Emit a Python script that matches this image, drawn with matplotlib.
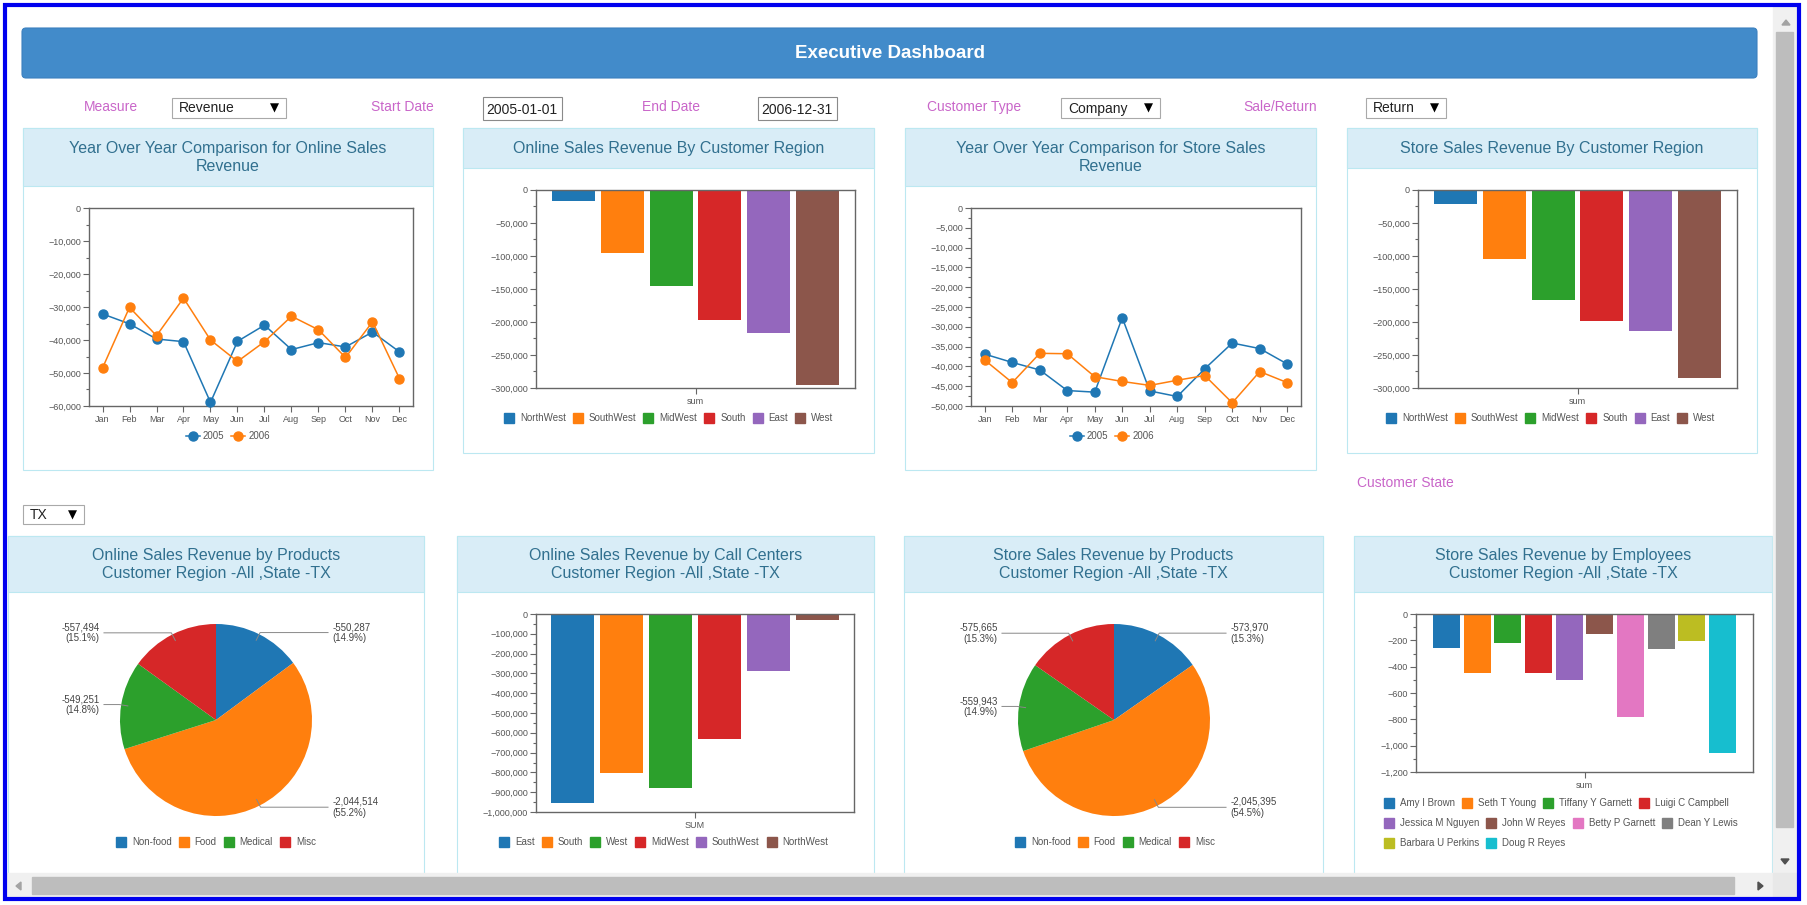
import matplotlib
matplotlib.use("Agg")
import matplotlib.pyplot as plt
from matplotlib.patches import Rectangle, FancyBboxPatch, Polygon
from matplotlib.ticker import MultipleLocator, FuncFormatter
import numpy as np

plt.rcParams['font.family'] = ['Liberation Sans', 'DejaVu Sans']
plt.rcParams['axes.unicode_minus'] = True

# ------------------------------
# Données
# ------------------------------
months = ['Jan', 'Feb', 'Mar', 'Apr', 'May', 'Jun', 'Jul', 'Aug', 'Sep', 'Oct', 'Nov', 'Dec']
online_2005 = [-32100, -35100, -39700, -40500, -58900, -40400, -35500, -42900, -40800, -42100, -37600, -43600]
online_2006 = [-48500, -30100, -38700, -27300, -40000, -46500, -40500, -32800, -36900, -45300, -34500, -51700]
store_2005 = [-36900, -39000, -40900, -46100, -46500, -27700, -46200, -47600, -40600, -34100, -35500, -39400]
store_2006 = [-38400, -44100, -36700, -36800, -42600, -43800, -44800, -43500, -42300, -49200, -41300, -44100]

regions = ['NorthWest', 'SouthWest', 'MidWest', 'South', 'East', 'West']
online_region = [-17200, -96100, -144700, -196300, -216000, -294900]
store_region = [-21800, -105200, -167400, -197800, -213000, -284300]

products = ['Non-food', 'Food', 'Medical', 'Misc']
online_products = [-550287, -2044514, -549251, -557494]
store_products = [-573970, -2045395, -559943, -575665]

call_centers = ['East', 'South', 'West', 'MidWest', 'SouthWest', 'NorthWest']
call_center_rev = [-952800, -801000, -876900, -629000, -290100, -32000]

employees = ['Amy I Brown', 'Seth T Young', 'Tiffany Y Garnett', 'Luigi C Campbell',
             'Jessica M Nguyen', 'John W Reyes', 'Betty P Garnett', 'Dean Y Lewis',
             'Barbara U Perkins', 'Doug R Reyes']
employee_rev = [-261, -451, -223, -451, -504, -154, -785, -268, -208, -1058]

# couleurs
C = ['#1f77b4', '#ff7f0e', '#2ca02c', '#d62728', '#9467bd',
     '#8c564b', '#e377c2', '#7f7f7f', '#bcbd22', '#17becf']
TXT = '#555555'
AX_C = '#666666'
ORCHID = '#c966c9'
PANEL_HEAD = '#d9edf7'
PANEL_EDGE = '#bce8f1'
TITLE_C = '#31708f'

W, H = 1807, 905
fig = plt.figure(figsize=(W / 100, H / 100), dpi=100)
bg = fig.add_axes([0, 0, 1, 1])
bg.set_xlim(0, W)
bg.set_ylim(H, 0)
bg.axis('off')
renderer = fig.canvas.get_renderer()


def px_axes(x0, y0, x1, y1):
    return fig.add_axes([x0 / W, 1 - y1 / H, (x1 - x0) / W, (y1 - y0) / H])


def fmt(v, pos):
    return f"{v:,.0f}".replace('-', '\u2212')


def style_axes(ax):
    for s in ax.spines.values():
        s.set_color(AX_C)
        s.set_linewidth(1.0)
    ax.tick_params(which='both', direction='out', color=AX_C, width=0.8,
                   labelsize=6.5, labelcolor=TXT)
    ax.tick_params(which='major', length=4.3)
    ax.tick_params(which='minor', length=2.2)
    ax.tick_params(axis='y', pad=1.5)
    ax.tick_params(axis='x', pad=2.5)
    ax.yaxis.set_major_formatter(FuncFormatter(fmt))


def panel(x0, y0, x1, y1, hb, title):
    bg.add_patch(Rectangle((x0, y0), x1 - x0, y1 - y0, facecolor='white',
                           edgecolor=PANEL_EDGE, lw=0.8))
    bg.add_patch(Rectangle((x0, y0), x1 - x0, hb - y0, facecolor=PANEL_HEAD,
                           edgecolor=PANEL_EDGE, lw=0.8))
    bg.text((x0 + x1) / 2, (y0 + hb) / 2 + 0.5, title, ha='center', va='center',
            fontsize=11.5, color=TITLE_C, linespacing=1.22)


def flow_legend(labels, colors, x0, y0, max_x, kind='box', row_h=20):
    x, y = x0, y0
    for lab, col in zip(labels, colors):
        t = bg.text(0, y, lab, fontsize=7, color=TXT, va='center', ha='left')
        tw = t.get_window_extent(renderer).width
        sw, gap = (10, 6) if kind == 'box' else (14, 3)
        if x + sw + gap + tw > max_x and x > x0:
            x = x0
            y += row_h
        if kind == 'box':
            bg.add_patch(Rectangle((x, y - 5), 10, 10, color=col))
        else:
            bg.plot([x, x + 14], [y, y], color=col, lw=1.1)
            bg.plot([x + 7], [y], 'o', color=col, ms=6.5)
        t.set_position((x + sw + gap, y))
        x += sw + gap + tw + 7


def line_chart(box, s05, s06, ymin, step):
    ax = px_axes(*box)
    x = np.arange(len(months))
    ax.plot(x, s05, '-o', color=C[0], lw=1.1, ms=6.5, clip_on=False, zorder=3)
    ax.plot(x, s06, '-o', color=C[1], lw=1.1, ms=6.5, clip_on=False, zorder=3)
    ax.set_xlim(-0.5, len(months) - 0.5)
    ax.set_ylim(ymin, 0)
    ax.set_xticks(x, months)
    ax.yaxis.set_major_locator(MultipleLocator(step))
    ax.yaxis.set_minor_locator(MultipleLocator(step / 2))
    style_axes(ax)
    return ax


def bar_chart(box, values, colors, xlabel, ymin, step, pad):
    ax = px_axes(*box)
    x = np.arange(len(values))
    ax.bar(x, values, width=0.88, color=colors)
    ax.set_xlim(-pad, len(values) - 1 + pad)
    ax.set_ylim(ymin, 0)
    ax.set_xticks([(len(values) - 1) / 2], [xlabel])
    ax.yaxis.set_major_locator(MultipleLocator(step))
    ax.yaxis.set_minor_locator(MultipleLocator(step / 2))
    style_axes(ax)
    return ax


def pie_chart(cx, cy, r, values):
    ax = px_axes(cx - r, cy - r, cx + r, cy + r)
    sizes = np.abs(np.array(values, dtype=float))
    wedges, _ = ax.pie(sizes, colors=C[:len(values)], startangle=90,
                       counterclock=False, radius=1, wedgeprops=dict(linewidth=0))
    ax.set_xlim(-1, 1)
    ax.set_ylim(-1, 1)
    ax.axis('off')
    total = sizes.sum()
    for w, v in zip(wedges, values):
        a = np.deg2rad((w.theta1 + w.theta2) / 2)
        c, s = np.cos(a), np.sin(a)
        side = 1 if c >= 0 else -1
        ex, ey = 1.02 * c, 1.02 * s
        ax.plot([0.93 * c, ex, side * 1.167], [0.93 * s, ey, ey], color='#888888',
                lw=0.7, clip_on=False)
        ax.text(side * 1.21, ey, f"{v:,}\n({abs(v) / total * 100:.1f}%)",
                ha='left' if side > 0 else 'right', va='center', fontsize=7,
                color='#444444', linespacing=1.1, clip_on=False)
    return ax


def dropdown(x0, y0, x1, y1, text):
    bg.add_patch(Rectangle((x0, y0), x1 - x0, y1 - y0, facecolor='white',
                           edgecolor='#a9a9a9', lw=0.8))
    bg.text(x0 + 7, (y0 + y1) / 2 + 0.5, text, fontsize=10, va='center', ha='left', color='#222222')
    bg.text(x1 - 12, (y0 + y1) / 2 + 0.5, '\u25BC', fontsize=8.5, ha='center', va='center',
            color='black', family='DejaVu Sans')


def datebox(x0, y0, x1, y1, text):
    bg.add_patch(Rectangle((x0, y0), x1 - x0, y1 - y0, facecolor='white',
                           edgecolor='#8a8a8a', lw=0.8))
    bg.text(x0 + 3, (y0 + y1) / 2 + 1, text, fontsize=10, va='center', ha='left', color='#222222')


# ------------------------------
# En-tête et filtres
# ------------------------------
bg.add_patch(FancyBboxPatch((22, 28), 1735, 50, boxstyle='round,pad=0,rounding_size=4',
                            facecolor='#428bca', edgecolor='#3b80bf', lw=0.8))
bg.text(890, 53, 'Executive Dashboard', ha='center', va='center', fontsize=13.5,
        fontweight='bold', color='white')

for label, x in [('Measure', 84), ('Start Date', 371), ('End Date', 642),
                 ('Customer Type', 927), ('Sale/Return', 1243)]:
    bg.text(x, 107, label, fontsize=10, color=ORCHID, va='center', ha='left')
dropdown(172, 98, 286, 118, 'Revenue')
datebox(483, 97, 562, 120, '2005-01-01')
datebox(758, 97, 837, 120, '2006-12-31')
dropdown(1061, 98, 1160, 118, 'Company')
dropdown(1366, 98, 1446, 118, 'Return')
bg.text(1357, 483, 'Customer State', fontsize=10, color=ORCHID, va='center', ha='left')
dropdown(23, 505, 84, 524, 'TX')

# ------------------------------
# Rangée du haut
# ------------------------------
panel(23, 128, 433, 470, 186, 'Year Over Year Comparison for Online Sales\nRevenue')
line_chart((89, 208, 413, 406), online_2005, online_2006, -60000, 10000)
flow_legend(['2005', '2006'], C[:2], 186, 436, 420, kind='line')

panel(463, 128, 874, 453, 168, 'Online Sales Revenue By Customer Region')
bar_chart((536, 190, 855, 388), online_region, C[:6], 'sum', -300000, 50000, 0.77)
flow_legend(regions, C[:6], 504, 418, 870)

panel(905, 128, 1316, 470, 186, 'Year Over Year Comparison for Store Sales\nRevenue')
line_chart((971, 208, 1301, 406), store_2005, store_2006, -50000, 5000)
flow_legend(['2005', '2006'], C[:2], 1070, 436, 1300, kind='line')

panel(1347, 128, 1757, 453, 168, 'Store Sales Revenue By Customer Region')
bar_chart((1418, 190, 1737, 388), store_region, C[:6], 'sum', -300000, 50000, 0.77)
flow_legend(regions, C[:6], 1386, 418, 1755)

# ------------------------------
# Rangée du bas
# ------------------------------
panel(8, 536, 424, 885, 592, 'Online Sales Revenue by Products\nCustomer Region -All ,State -TX')
pie_chart(216, 720, 96, online_products)
flow_legend(products, C[:4], 116, 842, 420)

panel(457, 536, 874, 885, 592, 'Online Sales Revenue by Call Centers\nCustomer Region -All ,State -TX')
bar_chart((536, 614, 854, 812), call_center_rev, C[:6], 'SUM', -1000000, 100000, 0.75)
flow_legend(call_centers, C[:6], 499, 842, 870)

panel(904, 536, 1323, 885, 592, 'Store Sales Revenue by Products\nCustomer Region -All ,State -TX')
pie_chart(1114, 720, 96, store_products)
flow_legend(products, C[:4], 1015, 842, 1320)

panel(1354, 536, 1772, 885, 592, 'Store Sales Revenue by Employees\nCustomer Region -All ,State -TX')
bar_chart((1416, 614, 1753, 772), employee_rev, C[:10], 'sum', -1200, 200, 0.99)
flow_legend(employees, C[:10], 1384, 803, 1754)

# ------------------------------
# Barres de défilement et cadre
# ------------------------------
bg.add_patch(Rectangle((1773, 7), 24, 866, color='#f0f0f0'))
bg.add_patch(Rectangle((1776, 32), 17, 795, color='#bdbdbd'))
bg.add_patch(Rectangle((7, 873), 1766, 24, color='#f0f0f0'))
bg.add_patch(Rectangle((32, 877), 1702, 17, color='#bdbdbd'))
bg.add_patch(Rectangle((1773, 873), 24, 24, color='#e8e8e8'))
bg.add_patch(Polygon([(1782, 25), (1790, 25), (1786, 20)], color='#a3a3a3'))
bg.add_patch(Polygon([(1781, 859), (1789, 859), (1785, 864)], color='#505050'))
bg.add_patch(Polygon([(21, 882), (21, 890), (16, 886)], color='#a3a3a3'))
bg.add_patch(Polygon([(1758, 882), (1758, 890), (1763, 886)], color='#505050'))
bg.add_patch(Rectangle((5, 5), 1794, 894, facecolor='none', edgecolor='#0000ee', lw=3))

fig.savefig('out.png', dpi=100)
